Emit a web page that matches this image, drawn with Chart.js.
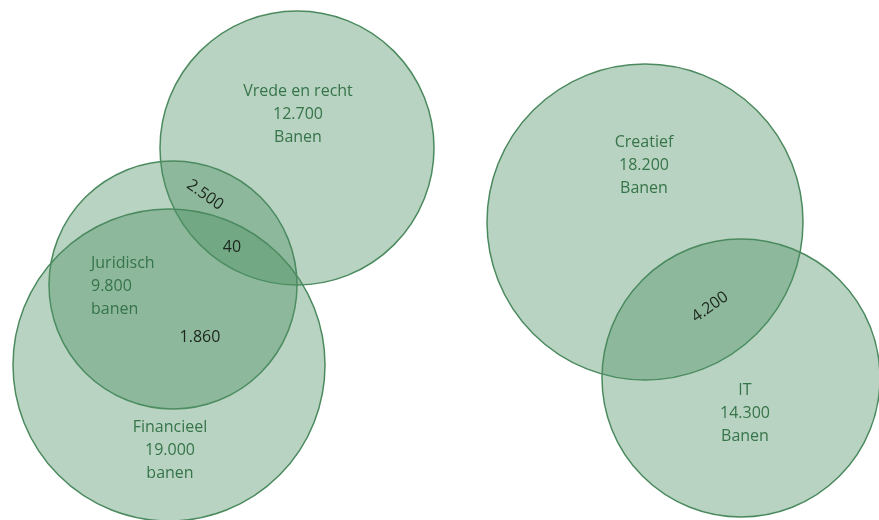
<!DOCTYPE html>
<html>
<head>
<meta charset="utf-8">
<script src="https://cdn.jsdelivr.net/npm/chart.js@4.4.0/dist/chart.umd.min.js"></script>
<style>
  html, body { margin: 0; padding: 0; background: #fff; }
  #venn { display: block; }
</style>
</head>
<body>
<canvas id="venn" width="879" height="520"></canvas>
<script>
// sets of the venn diagram
const setNames = ['Vrede en recht', 'Juridisch', 'Financieel', 'Creatief', 'IT'];
const setJobs = ['12.700', '9.800', '19.000', '18.200', '14.300'];
const setUnit = ['Banen', 'banen', 'banen', 'Banen', 'Banen'];
const centerX = [297, 173, 169, 645, 741];
const centerY = [148, 285, 365, 222, 378];
const radius = [137, 124, 156, 158, 139];

// where the set labels go (first line), and how they are aligned
const labelX = [298, 91, 170, 644, 745];
const labelY = [91, 263, 427, 142, 390];
const labelAlign = ['center', 'left', 'center', 'center', 'center'];

// overlap counts
const overlapText = ['2.500', '40', '1.860', '4.200'];
const overlapX = [205, 232, 200, 710];
const overlapY = [195, 247, 337, 307];
const overlapAngle = [35, 0, 0, -35];

const labelPlugin = {
    id: 'vennLabels',
    afterDatasetsDraw(chart) {
        const ctx = chart.ctx;
        const xs = chart.scales.x;
        const ys = chart.scales.y;
        ctx.save();
        ctx.textBaseline = 'middle';
        ctx.font = '16px "Open Sans", sans-serif';
        ctx.fillStyle = '#367449';
        setNames.forEach((name, i) => {
            const px = xs.getPixelForValue(labelX[i]);
            const py = ys.getPixelForValue(labelY[i]);
            ctx.textAlign = labelAlign[i];
            ctx.fillText(name, px, py);
            ctx.fillText(setJobs[i], px, py + 23);
            ctx.fillText(setUnit[i], px, py + 46);
        });
        ctx.fillStyle = '#1c261e';
        ctx.textAlign = 'center';
        overlapText.forEach((t, i) => {
            ctx.save();
            ctx.translate(xs.getPixelForValue(overlapX[i]), ys.getPixelForValue(overlapY[i]));
            ctx.rotate(overlapAngle[i] * Math.PI / 180);
            ctx.fillText(t, 0, 0);
            ctx.restore();
        });
        ctx.restore();
    }
};

const ctx = document.getElementById('venn').getContext('2d');
new Chart(ctx, {
    type: 'bubble',
    data: {
        datasets: [{
            data: setNames.map((n, i) => ({ x: centerX[i], y: centerY[i], r: radius[i] })),
            backgroundColor: 'rgba(78, 145, 100, 0.4)',
            borderColor: '#4b8a5f',
            borderWidth: 1.5,
            hoverRadius: 0,
            clip: false
        }]
    },
    options: {
        responsive: false,
        animation: false,
        layout: { padding: 0, autoPadding: false },
        plugins: {
            legend: { display: false },
            tooltip: { enabled: false }
        },
        scales: {
            x: { type: 'linear', min: 0, max: 879, display: false },
            y: { type: 'linear', min: 0, max: 520, reverse: true, display: false }
        }
    },
    plugins: [labelPlugin]
});
</script>
</body>
</html>
